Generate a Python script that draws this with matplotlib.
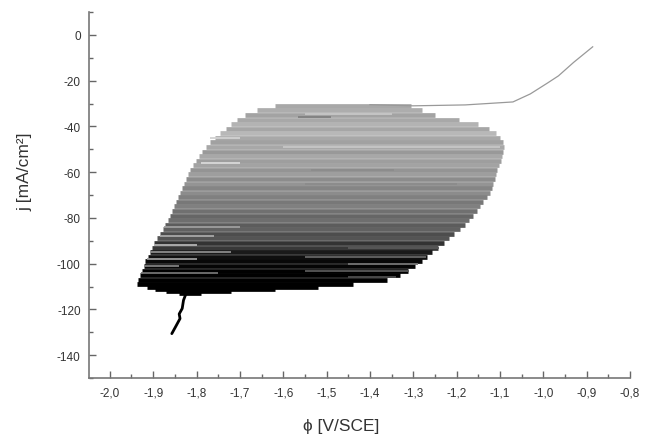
import numpy as np
import matplotlib
matplotlib.use("Agg")
import matplotlib.pyplot as plt
from matplotlib.ticker import MultipleLocator, FuncFormatter

# ---- data ----
# oscillation sweeps: current level, left/right potential, grey level (0 = black)
sweep_j = [-31, -33, -35, -37, -39, -41, -43, -45, -47, -49, -51, -53, -55, -57,
           -59, -61, -63, -65, -67, -69, -71, -73, -75, -77, -79, -81, -83, -85,
           -87, -89, -91, -93, -95, -97, -99, -101, -103, -105, -107, -109,
           -110, -111, -112, -113]
sweep_left = [-1.620, -1.660, -1.688, -1.706, -1.720, -1.733, -1.745, -1.757, -1.768,
              -1.778, -1.787, -1.795, -1.802, -1.808, -1.814, -1.820, -1.825, -1.830,
              -1.834, -1.838, -1.843, -1.847, -1.851, -1.856, -1.861, -1.866, -1.872,
              -1.878, -1.884, -1.890, -1.897, -1.903, -1.908, -1.913, -1.918, -1.922,
              -1.926, -1.930, -1.934, -1.937, -1.915, -1.895, -1.870, -1.840]
sweep_right = [-1.305, -1.280, -1.250, -1.195, -1.150, -1.125, -1.110, -1.100, -1.092,
               -1.090, -1.092, -1.095, -1.098, -1.102, -1.106, -1.109, -1.112, -1.115,
               -1.119, -1.124, -1.130, -1.138, -1.146, -1.154, -1.163, -1.172, -1.181,
               -1.192, -1.205, -1.218, -1.230, -1.243, -1.256, -1.268, -1.280, -1.295,
               -1.312, -1.330, -1.360, -1.440, -1.520, -1.620, -1.720, -1.790]
sweep_grey = [0.66, 0.68, 0.64, 0.66, 0.70, 0.65, 0.72, 0.66, 0.63, 0.66, 0.60, 0.66,
              0.62, 0.64, 0.58, 0.62, 0.55, 0.58, 0.52, 0.55, 0.50, 0.47, 0.50, 0.44,
              0.40, 0.43, 0.36, 0.38, 0.30, 0.33, 0.20, 0.22, 0.10, 0.06, 0.03, 0.02,
              0.0, 0.0, 0.0, 0.0, 0.0, 0.0, 0.0, 0.0]

# shorter sweeps that show as streaks on top of the band
streak_j = [-36, -34.5, -45, -49, -56, -59, -65, -84, -88, -92, -95, -98, -101, -104,
            -93, -97, -100, -103, -106]
streak_x0 = [-1.567, -1.55, -1.77, -1.60, -1.79, -1.537, -1.55, -1.875, -1.884, -1.897,
             -1.908, -1.915, -1.92, -1.928, -1.45, -1.55, -1.45, -1.55, -1.45]
streak_x1 = [-1.49, -1.35, -1.70, -1.10, -1.70, -1.345, -1.20, -1.70, -1.76, -1.80,
             -1.72, -1.80, -1.84, -1.75, -1.24, -1.27, -1.29, -1.31, -1.34]
streak_grey = [0.50, 0.78, 0.82, 0.78, 0.85, 0.55, 0.55, 0.62, 0.66, 0.70, 0.55, 0.60,
               0.50, 0.45, 0.35, 0.40, 0.45, 0.35, 0.30]

# thin trace at the anodic end
top_phi = [-1.40, -1.30, -1.18, -1.07, -1.03, -0.99, -0.965, -0.93, -0.886]
top_j = [-30.5, -31.0, -30.6, -29.3, -25.8, -21.0, -17.9, -12.0, -5.2]

# tail below the band
tail_phi = [-1.822, -1.830, -1.833, -1.840, -1.838, -1.848, -1.857]
tail_j = [-112.0, -116.0, -119.6, -122.0, -124.0, -127.5, -130.6]

plt.rcParams['font.family'] = ['Liberation Sans', 'DejaVu Sans']

fig = plt.figure(figsize=(6.45, 4.35), dpi=100)
ax = fig.add_axes([0.138, 0.1287, 0.9767 - 0.138, 0.970 - 0.1287])

ax.hlines(sweep_j, sweep_left, sweep_right, colors=[str(g) for g in sweep_grey],
          linewidth=3.4, capstyle='butt')
ax.hlines(streak_j, streak_x0, streak_x1, colors=[str(g) for g in streak_grey],
          linewidth=1.3, capstyle='butt')
ax.plot(top_phi, top_j, color='#999999', linewidth=0.9)
ax.plot(tail_phi, tail_j, color='black', linewidth=2.0, solid_capstyle='round')

ax.set_xlim(-2.048, -0.8)
ax.set_ylim(-150, 10)

for side in ['top', 'right']:
    ax.spines[side].set_visible(False)
for side in ['left', 'bottom']:
    ax.spines[side].set_color('#777777')
    ax.spines[side].set_linewidth(1.2)

ax.xaxis.set_major_locator(MultipleLocator(0.1))
ax.xaxis.set_minor_locator(MultipleLocator(0.05))
ax.yaxis.set_major_locator(MultipleLocator(20))
ax.yaxis.set_minor_locator(MultipleLocator(10))
ax.xaxis.set_major_formatter(FuncFormatter(lambda v, p: f"{v:.1f}".replace('.', ',')))
ax.yaxis.set_major_formatter(FuncFormatter(lambda v, p: f"{v:.0f}" if v <= 0 else ""))

ax.tick_params(which='both', direction='in', colors='#666666', labelcolor='#333333',
               labelsize=8.5, width=1.0)
ax.tick_params(which='major', length=5, pad=6)
ax.tick_params(which='minor', length=3)

ax.set_xlabel("ϕ [V/SCE]", fontsize=12.5, color='#333333')
ax.set_ylabel("j [mA/cm²]", fontsize=12.5, color='#333333')
ax.xaxis.set_label_coords(0.466, -0.11)
ax.yaxis.set_label_coords(-0.105, 0.567)

fig.savefig("out.png", dpi=100)
